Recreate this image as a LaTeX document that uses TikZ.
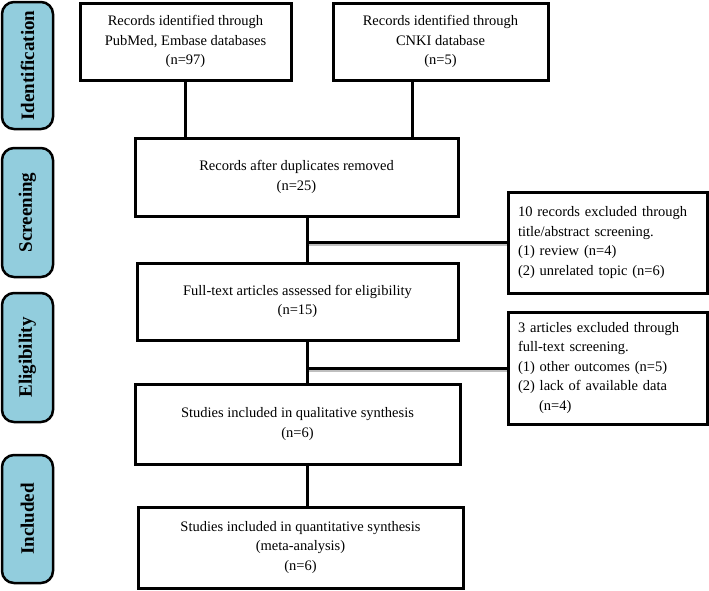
\documentclass[tikz,border=0pt]{standalone}
\usepackage{fontspec}
\setmainfont{Liberation Serif}
\usetikzlibrary{calc}

\definecolor{stagecol}{RGB}{146,205,221}

\begin{document}
\begin{tikzpicture}[x=1pt,y=-1pt,line width=3pt,
                    font=\fontsize{14.5}{19.5}\selectfont,
                    box/.style={draw,rectangle,align=center,inner sep=0pt},
                    excl/.style={draw,rectangle,align=left,inner sep=0pt,
                                 inner xsep=10pt,text width=179pt},
                    side/.style={draw,fill=stagecol,rounded corners=12pt,rotate=90,
                                 line width=2.5pt,minimum height=51pt,
                                 font=\fontsize{19}{23}\selectfont\bfseries},
                    shade/.style={gray!50,line width=2pt}]

  \useasboundingbox (0,0) rectangle (709,590);

  % stages
  \node[side,minimum width=127pt] (ident) at (27.5,65.5) {Identification};
  \node[side,minimum width=129pt] (scr)   at (27.5,212.5) {Screening};
  \node[side,minimum width=129pt] (elig)  at (27.5,357.5) {Eligibility};
  \node[side,minimum width=128pt] (incl)  at (27.5,519)   {Included};

  % main boxes
  \node[box,minimum width=211pt,minimum height=77pt] (id1) at (185.5,41.5)
        {Records identified through\\PubMed, Embase databases\\(n=97)};
  \node[box,minimum width=215pt,minimum height=77pt] (id2) at (440.5,41.5)
        {Records identified through\\CNKI database\\(n=5)};
  \node[box,minimum width=323pt,minimum height=78pt] (dup) at (296.5,177)
        {Records after duplicates removed\\(n=25)};
  \node[box,minimum width=321pt,minimum height=77pt] (full) at (297.5,301.5)
        {Full-text articles assessed for eligibility\\(n=15)};
  \node[box,minimum width=325pt,minimum height=80pt] (qual) at (297.5,424)
        {Studies included in qualitative synthesis\\(n=6)};
  \node[box,minimum width=325pt,minimum height=81pt] (quant) at (300.5,547.5)
        {Studies included in quantitative synthesis\\(meta-analysis)\\(n=6)};

  % exclusions
  \node[excl,minimum height=101pt] (excl1) at (607.5,242.5)
        {10 records excluded through\\title/abstract screening.\\(1) review (n=4)\\(2) unrelated topic (n=6)};
  \node[excl,minimum height=112pt] (excl2) at (607.5,368)
        {3 articles excluded through\\full-text screening.\\(1) other outcomes (n=5)\\(2) lack of available data\\\hspace*{21pt}(n=4)};

  \coordinate (axis) at (307,0);
  \coordinate (cnki) at ($(id2.south west)!.37!(id2.south east)$);

  \draw (id1.south) -- (id1.south |- dup.north);
  \draw (cnki) -- (cnki |- dup.north);
  \draw (dup.south -| axis) -- (full.north -| axis);
  \draw (full.south -| axis) -- (qual.north -| axis);
  \draw (qual.south -| axis) -- (quant.north -| axis);

  \draw[shade] ($(axis |- excl1.west)+(1.5,2.5)$) -- ($(excl1.west)+(0,2.5)$);
  \draw (axis |- excl1.west) -- (excl1.west);
  \draw[shade] ($(axis |- excl2.west)+(1.5,2.5)$) -- ($(excl2.west)+(0,2.5)$);
  \draw (axis |- excl2.west) -- (excl2.west);
\end{tikzpicture}
\end{document}
